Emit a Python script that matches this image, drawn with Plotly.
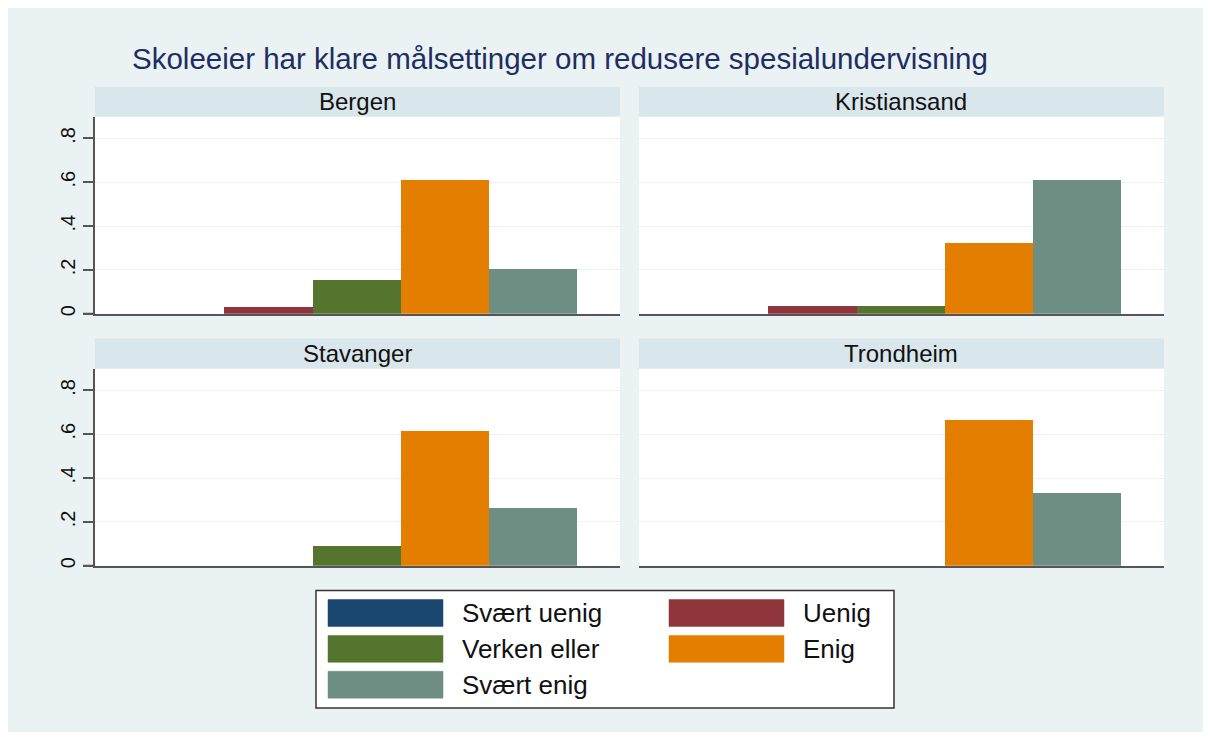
import plotly.graph_objects as go

# Data
categories = ["Svært uenig", "Uenig", "Verken eller", "Enig", "Svært enig"]
colors = ["#1a476f", "#90353b", "#55752f", "#e37e00", "#6e8e84"]
cities = ["Bergen", "Kristiansand", "Stavanger", "Trondheim"]
bergen = [0.0, 0.035, 0.155, 0.613, 0.207]
kristiansand = [0.0, 0.036, 0.036, 0.325, 0.613]
stavanger = [0.0, 0.0, 0.091, 0.618, 0.265]
trondheim = [0.0, 0.0, 0.0, 0.667, 0.333]
city_values = [bergen, kristiansand, stavanger, trondheim]
tick_vals = [0, 0.2, 0.4, 0.6, 0.8]
tick_text = ["0", ".2", ".4", ".6", ".8"]

# the page body adds an 8px margin, so the figure is a bit smaller
OFF = 8
W, H = 1211 - 2 * OFF, 740 - 2 * OFF
BG = "#eaf2f3"
STRIP = "#d9e6eb"
AXIS = "#555555"
FONT = "Liberation Sans, Arial, sans-serif"


def px(x):
    return (x - OFF) / W


def py(y):
    return 1 - (y - OFF) / H


# panel geometry in page pixels: (x0, x1, ytop, ybottom)
panels = [(95, 620, 117, 315), (639, 1164, 117, 315),
          (95, 620, 370, 568), (639, 1164, 370, 568)]

fig = go.Figure()
shapes = []
annotations = []

for i, (city, vals) in enumerate(zip(cities, city_values)):
    n = i + 1
    xa = "x" if n == 1 else f"x{n}"
    ya = "y" if n == 1 else f"y{n}"
    fig.add_trace(go.Bar(
        x=list(range(len(categories))), y=vals,
        marker=dict(color=colors, line=dict(width=0)),
        width=1.0, xaxis=xa, yaxis=ya, showlegend=False,
        hovertext=categories, name=city,
    ))
    x0, x1, yt, yb = panels[i]
    left = i % 2 == 0
    fig.update_layout(**{
        f"xaxis{'' if n == 1 else n}": dict(
            domain=[px(x0), px(x1)], anchor=ya, range=[-0.97, 4.99],
            showgrid=False, zeroline=False, showticklabels=False, ticks="",
            showline=True, linecolor=AXIS, linewidth=2, fixedrange=True,
        ),
        f"yaxis{'' if n == 1 else n}": dict(
            domain=[py(yb), py(yt)], anchor=xa, range=[0, 0.9],
            tickvals=tick_vals, ticktext=tick_text, tickangle=-90,
            showticklabels=left, ticks="outside" if left else "",
            ticklen=10, tickwidth=2, tickcolor=AXIS,
            showline=left, linecolor=AXIS, linewidth=2,
            showgrid=True, gridcolor=BG, gridwidth=1, zeroline=False,
            tickfont=dict(family=FONT, size=20, color="#111111"),
        ),
    })
    # header strip
    shapes.append(dict(type="rect", xref="paper", yref="paper",
                       x0=px(x0), x1=px(x1), y0=py(yt), y1=py(yt - 30),
                       fillcolor=STRIP, line=dict(width=0)))
    annotations.append(dict(text=city, xref="paper", yref="paper",
                            x=(px(x0) + px(x1)) / 2, y=py(yt - 15),
                            xanchor="center", yanchor="middle", showarrow=False,
                            font=dict(family=FONT, size=24, color="#111111")))
    if left:
        # baseline extends under the tick marks
        shapes.append(dict(type="line", xref="paper", yref=ya,
                           x0=px(x0 - 12), x1=px(x0), y0=0, y1=0,
                           line=dict(color=AXIS, width=2)))

# title
annotations.append(dict(text="Skoleeier har klare målsettinger om redusere spesialundervisning",
                        xref="paper", yref="paper", x=px(130), y=py(59),
                        xanchor="left", yanchor="middle", showarrow=False,
                        font=dict(family=FONT, size=29.5, color="#1e2d62")))

# legend box
shapes.append(dict(type="rect", xref="paper", yref="paper",
                   x0=px(316), x1=px(894), y0=py(711), y1=py(593),
                   fillcolor="white", line=dict(color="#333333", width=1.5)))
col_x = [328, 669]
row_y = [602, 638, 674]
for k, (cat, col) in enumerate(zip(categories, colors)):
    cx = col_x[k % 2]
    ry = row_y[k // 2]
    shapes.append(dict(type="rect", xref="paper", yref="paper",
                       x0=px(cx), x1=px(cx + 115), y0=py(ry + 27), y1=py(ry),
                       fillcolor=col, line=dict(color=col, width=0.5)))
    annotations.append(dict(text=cat, xref="paper", yref="paper",
                            x=px(cx + 132), y=py(ry + 14),
                            xanchor="left", yanchor="middle", showarrow=False,
                            font=dict(family=FONT, size=26, color="#111111")))

fig.update_layout(
    width=W, height=H,
    margin=dict(l=0, r=0, t=0, b=0),
    paper_bgcolor=BG, plot_bgcolor="white",
    bargap=0, barmode="group",
    shapes=shapes, annotations=annotations,
    showlegend=False,
)

fig.write_html("out.html")
